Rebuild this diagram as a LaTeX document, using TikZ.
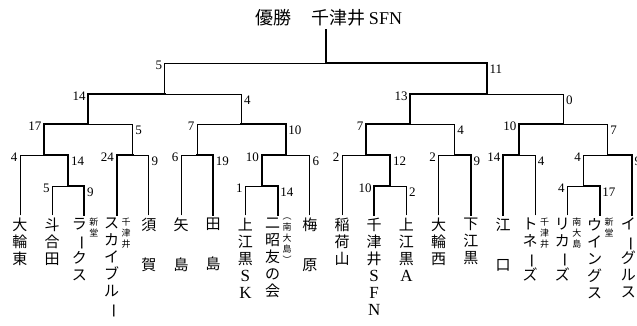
\documentclass[tikz,border=0pt]{standalone}
\usepackage{fontspec}
\usepackage{graphicx}
\usepackage{tikz}
\setmainfont{Liberation Serif}
\newfontfamily\jp{Noto Sans CJK JP}
\usetikzlibrary{positioning}
\newcommand{\bou}{\rotatebox[origin=c]{-90}{ー}}
\newcommand{\lat}[1]{{\rmfamily\fontsize{17}{17}\selectfont #1}}
\newcommand{\drawGame}[7]
{
	\draw[#4] (#2) |- (#1);
	\draw[#7] (#5) |- (#1);
	\node[scoreL] (s-#2) at (#2 |- #1) {#3};
	\node[scoreR] (s-#5) at (#5 |- #1) {#6};
}
\tikzset{
	win/.style={line width=2pt,line cap=rect},
	lose/.style={line width=0.9pt,line cap=rect},
	scoreL/.style={anchor=east,inner sep=1pt,xshift=-1.5pt,yshift=-2pt,font=\fontsize{13}{13}\selectfont},
	scoreR/.style={anchor=north west,inner sep=1pt,xshift=1.5pt,yshift=-1pt,font=\fontsize{13}{13}\selectfont},
	leaf/.style={align=center,inner sep=0pt,font=\jp\fontsize{15}{17}\selectfont},
	note/.style={align=center,inner sep=0pt,font=\jp\fontsize{9}{11}\selectfont},
	title/.style={inner sep=3pt,font=\fontsize{18}{18}\selectfont}
}
\begin{document}
\begin{tikzpicture}[x=1pt,y=-1pt]
\useasboundingbox (0,0) rectangle (637,325);

\foreach \i in {1,...,20}
	\coordinate (l\i) at ({20+32.2*(\i-1)},215);
\foreach \n/\x/\y in {p1/68.3/186,p2/261.5/186,p3/390.3/186,p4/583.5/186,
	a1/44.15/155,a2/132.7/155,a3/197.1/155,a4/285.65/155,
	a5/366.15/155,a6/454.7/155,a7/519.1/155,a8/607.65/155,
	b1/88.4/124,b2/241.4/124,b3/410.4/124,b4/563.4/124,
	c1/164.9/94,c2/486.9/94,f/325.9/63}
	\coordinate (\n) at (\x,\y);

\drawGame{p1}{l2}{5}{lose}{l3}{9}{win}
\drawGame{p2}{l8}{1}{lose}{l9}{14}{win}
\drawGame{p3}{l12}{10}{win}{l13}{2}{lose}
\drawGame{p4}{l18}{4}{lose}{l19}{17}{win}
\drawGame{a1}{l1}{4}{lose}{p1}{14}{win}
\drawGame{a2}{l4}{24}{win}{l5}{9}{lose}
\drawGame{a3}{l6}{6}{lose}{l7}{19}{win}
\drawGame{a4}{p2}{10}{win}{l10}{6}{lose}
\drawGame{a5}{l11}{2}{lose}{p3}{12}{win}
\drawGame{a6}{l14}{2}{lose}{l15}{9}{win}
\drawGame{a7}{l16}{14}{win}{l17}{4}{lose}
\drawGame{a8}{p4}{4}{lose}{l20}{9}{win}
\drawGame{b1}{a1}{17}{win}{a2}{5}{lose}
\drawGame{b2}{a3}{7}{lose}{a4}{10}{win}
\drawGame{b3}{a5}{7}{win}{a6}{4}{lose}
\drawGame{b4}{a7}{10}{win}{a8}{7}{lose}
\drawGame{c1}{b1}{14}{win}{b2}{4}{lose}
\drawGame{c2}{b3}{13}{win}{b4}{0}{lose}
\drawGame{f}{c1}{5}{lose}{c2}{11}{win}

\node[title] (champ) at (329,18) {{\jp 優勝}\hspace{20pt}{\jp 千津井}\,SFN};
\draw[win] (f) -- (f |- champ.south);

\node[leaf,below=3pt of l1] (t1) {大\\輪\\東};
\node[leaf,below=3pt of l2] (t2) {斗\\合\\田};
\node[leaf,below=3pt of l3,xshift=-5pt] (t3) {ラ\\\bou\\ク\\ス};
\node[note,right=2pt of t3.north east,anchor=north west] (n3) {新\\堂};
\node[leaf,below=3pt of l4,xshift=-5pt] (t4) {ス\\カ\\イ\\ブ\\ル\\\bou};
\node[note,right=2pt of t4.north east,anchor=north west] (n4) {千\\津\\井};
\node[leaf,below=3pt of l5] (t5) {須\\[23pt]賀};
\node[leaf,below=3pt of l6] (t6) {矢\\[23pt]島};
\node[leaf,below=3pt of l7] (t7) {田\\[23pt]島};
\node[leaf,below=3pt of l8] (t8) {上\\江\\黒\\\lat{S}\\\lat{K}};
\node[leaf,below=3pt of l9,xshift=-5pt] (t9) {二\\昭\\友\\の\\会};
\node[note,right=2pt of t9.north east,anchor=north west] (n9) {︵\\南\\大\\島\\︶};
\node[leaf,below=3pt of l10] (t10) {梅\\[23pt]原};
\node[leaf,below=3pt of l11] (t11) {稲\\荷\\山};
\node[leaf,below=3pt of l12] (t12) {千\\津\\井\\\lat{S}\\\lat{F}\\\lat{N}};
\node[leaf,below=3pt of l13] (t13) {上\\江\\黒\\\lat{A}};
\node[leaf,below=3pt of l14] (t14) {大\\輪\\西};
\node[leaf,below=3pt of l15] (t15) {下\\江\\黒};
\node[leaf,below=3pt of l16] (t16) {江\\[23pt]口};
\node[leaf,below=3pt of l17,xshift=-5pt] (t17) {ト\\ネ\\\bou\\ズ};
\node[note,right=2pt of t17.north east,anchor=north west] (n17) {千\\津\\井};
\node[leaf,below=3pt of l18,xshift=-5pt] (t18) {リ\\カ\\\bou\\ズ};
\node[note,right=2pt of t18.north east,anchor=north west] (n18) {南\\大\\島};
\node[leaf,below=3pt of l19,xshift=-5pt] (t19) {ウ\\イ\\ン\\グ\\ス};
\node[note,right=2pt of t19.north east,anchor=north west] (n19) {新\\堂};
\node[leaf,below=3pt of l20,xshift=-3.5pt] (t20) {イ\\\bou\\グ\\ル\\ス};
\end{tikzpicture}
\end{document}
